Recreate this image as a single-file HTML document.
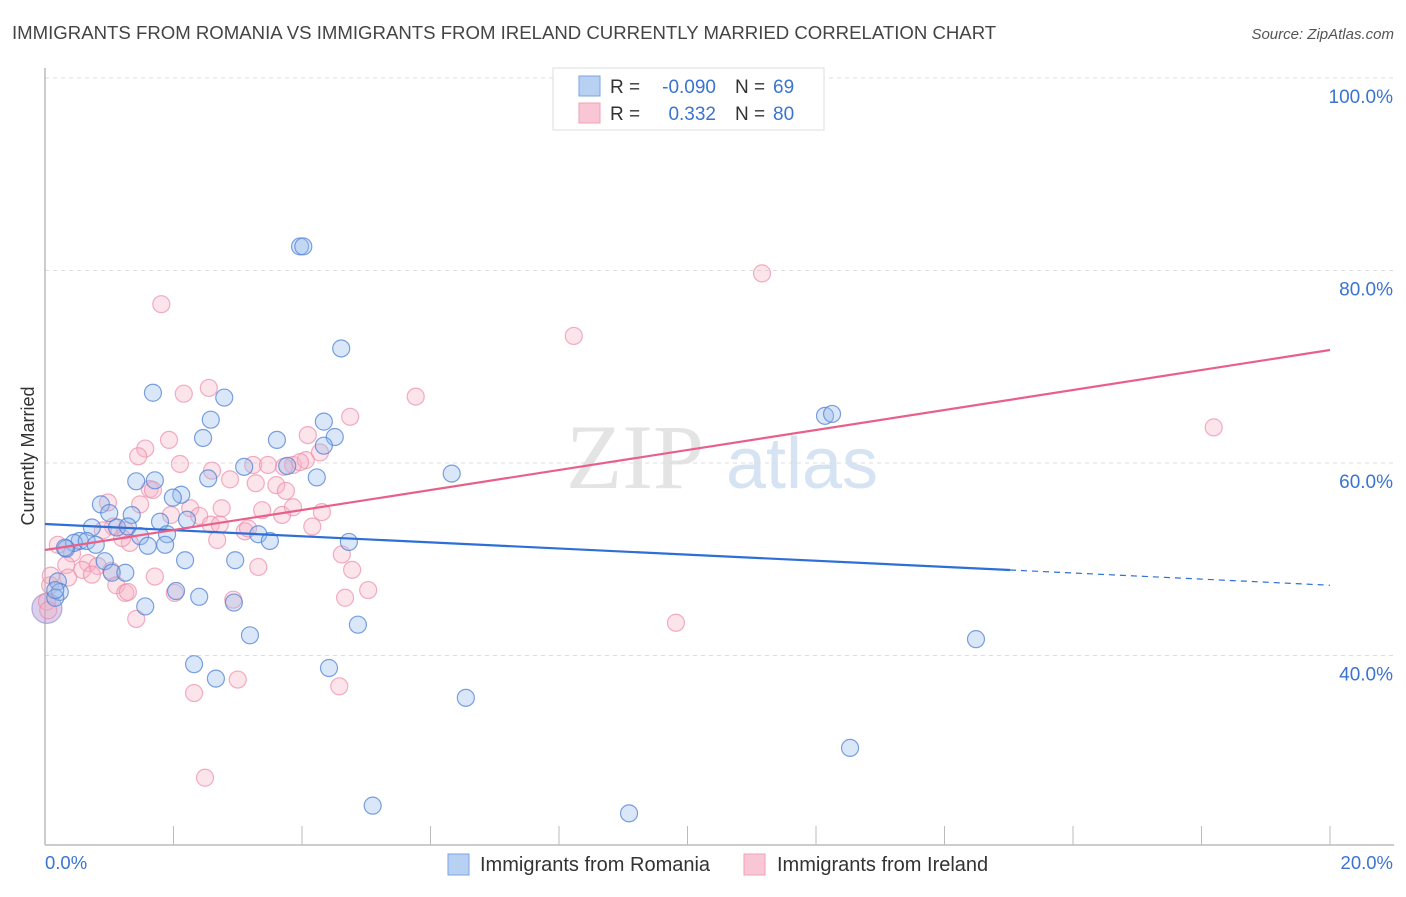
<!DOCTYPE html>
<html><head><meta charset="utf-8"><style>
body{margin:0;background:#fff;width:1406px;height:892px;overflow:hidden;font-family:"Liberation Sans",sans-serif}
</style></head><body>
<svg id="chart" width="1406" height="892" xmlns="http://www.w3.org/2000/svg" font-family="Liberation Sans, sans-serif">
<text x="12" y="39" font-size="18.6" fill="#444">IMMIGRANTS FROM ROMANIA VS IMMIGRANTS FROM IRELAND CURRENTLY MARRIED CORRELATION CHART</text>
<text x="1394" y="39" font-size="15" fill="#555" text-anchor="end" font-style="italic">Source: ZipAtlas.com</text>
<g>
<text x="635" y="488" font-size="92" fill="#e4e4e4" font-family="Liberation Serif, serif" text-anchor="middle">ZIP</text>
<text x="802" y="488" font-size="72" fill="#d6e3f3" text-anchor="middle">atlas</text>
</g>
<g id="grid"></g>
<g id="axes"></g>
<g id="series"></g>
<g id="trends"></g>
<g>
<rect x="553" y="68" width="271" height="62" fill="#fff" stroke="#ddd"/>
<rect x="579" y="76" width="21" height="20" fill="#b8d0f2" stroke="#7aa4e2"/>
<rect x="579" y="103" width="21" height="20" fill="#f8c6d4" stroke="#f0a0b8"/>
<text x="610" y="93" font-size="19" fill="#333">R = </text><text x="716" y="93" font-size="19" fill="#3a74d0" text-anchor="end">-0.090</text>
<text x="735" y="93" font-size="19" fill="#333">N = </text><text x="773" y="93" font-size="19" fill="#3a74d0">69</text>
<text x="610" y="120" font-size="19" fill="#333">R = </text><text x="716" y="120" font-size="19" fill="#3a74d0" text-anchor="end">0.332</text>
<text x="735" y="120" font-size="19" fill="#333">N = </text><text x="773" y="120" font-size="19" fill="#3a74d0">80</text>
</g>
<g>
<rect x="448" y="854" width="21" height="21" fill="#b8d0f2" stroke="#7aa4e2"/>
<text x="480" y="871" font-size="20" fill="#333">Immigrants from Romania</text>
<rect x="744" y="854" width="21" height="21" fill="#f8c6d4" stroke="#f0a0b8"/>
<text x="777" y="871" font-size="20" fill="#333">Immigrants from Ireland</text>
</g>
<text transform="translate(34,456) rotate(-90)" font-size="18" fill="#333" text-anchor="middle">Currently Married</text>
</svg>
<script>
const xTicks=[0,20];
const xTickLabels=["0.0%","20.0%"];
const yTicks=[40,60,80,100];
const yTickLabels=["40.0%","60.0%","80.0%","100.0%"];
const romaniaX=[3.97,4.02,4.61,1.68,2.79,2.58,2.46,3.61,4.51,4.34,4.34,3.10,3.77,4.23,6.33,2.54,1.71,1.42,2.12,1.99,0.87,1.00,1.35,0.73,1.12,1.79,1.29,2.21,1.48,1.90,3.32,3.50,4.73,0.54,0.45,0.65,0.79,0.33,1.60,1.87,0.93,2.18,2.96,1.04,1.25,0.20,0.23,0.16,1.56,2.94,2.04,2.40,3.19,4.87,2.32,4.42,2.66,6.55,12.53,5.10,9.09,14.49,12.14,12.25,0.16,0.31];
const romaniaY=[82.5,82.5,71.9,67.3,66.8,64.5,62.6,62.4,62.7,61.8,64.3,59.6,59.7,58.5,58.9,58.4,58.2,58.1,56.7,56.4,55.7,54.8,54.6,53.3,53.3,53.9,53.4,54.1,52.4,52.6,52.6,51.9,51.8,51.9,51.7,51.9,51.5,51.1,51.4,51.5,49.8,49.9,49.9,48.6,48.6,47.7,46.6,46.0,45.1,45.5,46.7,46.1,42.1,43.2,39.1,38.7,37.6,35.6,30.4,24.4,23.6,41.7,64.9,65.1,46.8,51.2];
const irelandX=[11.16,1.81,8.23,2.55,2.16,5.77,4.75,18.19,1.93,4.09,1.56,1.45,2.10,2.60,3.24,3.47,3.86,3.72,4.06,2.88,3.28,3.60,3.75,1.63,1.68,0.98,1.48,2.26,1.96,2.75,2.40,3.38,3.69,3.86,4.31,1.06,0.90,1.25,2.58,2.72,3.11,3.16,4.16,1.32,1.20,2.68,0.20,0.42,0.67,0.82,1.03,0.33,0.58,4.62,4.78,3.32,1.11,1.25,2.02,1.29,5.03,4.67,1.71,2.93,0.36,0.08,0.03,1.42,9.82,3.00,2.32,4.58,2.49,0.09,0.05,0.73,3.97,4.28];
const irelandY=[79.7,76.5,73.2,67.8,67.2,66.9,64.8,63.7,62.4,62.9,61.5,60.7,59.9,59.2,59.8,59.8,59.8,59.6,60.3,58.3,57.9,57.7,57.1,57.3,57.2,55.9,55.7,55.3,54.6,55.3,54.5,55.1,54.6,55.4,54.9,53.4,53.0,53.0,53.6,53.6,52.9,53.2,53.4,51.7,52.2,52.0,51.5,50.6,49.6,49.3,48.8,49.4,48.9,50.5,48.9,49.2,47.3,46.5,46.5,46.6,46.8,46.0,48.2,45.8,48.1,47.3,45.6,43.8,43.4,37.5,36.1,36.8,27.3,48.3,44.7,48.4,60.1,61.1];
const bigX=[0.03];
const bigY=[44.9];
const romaniaTrend=[53.66,47.3];
const romaniaSolidEnd=15.02;
const irelandTrend=[50.96,71.74];

const NS="http://www.w3.org/2000/svg";
const X0=45,X1=1330,Y60=463,PPU=9.625;
const sx=v=>X0+(v-xTicks[0])/(xTicks[1]-xTicks[0])*(X1-X0);
const sy=v=>Y60-(v-60)*PPU;
function mk(tag,attrs,parent){const e=document.createElementNS(NS,tag);for(const k in attrs)e.setAttribute(k,attrs[k]);parent.appendChild(e);return e;}
const grid=document.getElementById('grid'),axes=document.getElementById('axes'),series=document.getElementById('series'),trends=document.getElementById('trends');
yTicks.forEach((t,i)=>{
  const l=mk('line',{x1:X0,x2:1394,y1:sy(t),y2:sy(t),stroke:'#ddd','stroke-dasharray':'4,4'},grid);
  
  
  const tx=mk('text',{x:1393,y:sy(t)+25,'font-size':19,fill:'#3a74d0','text-anchor':'end'},axes);
  tx.textContent=yTickLabels[i];
  
  
});
const ax=mk('line',{x1:X0,x2:1394,y1:845,y2:845,stroke:'#bbb','stroke-width':1.5},axes);


const ay=mk('line',{x1:X0,x2:X0,y1:68,y2:845,stroke:'#bbb','stroke-width':1.5},axes);


for(let i=1;i<=10;i++){
  const v=xTicks[0]+(xTicks[1]-xTicks[0])*i/10;
  const t=mk('line',{x1:sx(v),x2:sx(v),y1:826,y2:845,stroke:'#bbb'},axes);
  
  
}
xTicks.forEach((t,i)=>{
  const tx=mk('text',{x:sx(t)+(i==0?0:63),y:869,'font-size':18.5,fill:'#3a74d0','text-anchor':i==0?'start':'end'},axes);
  tx.textContent=xTickLabels[i];
  
  
});
function dots(xs,ys,fill,stroke,name,r){
  xs.forEach((x,i)=>{
    const c=mk('circle',{cx:sx(x),cy:sy(ys[i]),r:r,fill:fill,stroke:stroke,'stroke-width':1.2},series);
    
    
  });
}
dots(bigX,bigY,'rgba(170,150,210,0.45)','rgba(160,140,210,0.7)','point-large',15);
dots(irelandX,irelandY,'rgba(246,178,198,0.35)','rgba(238,140,170,0.7)','point-ireland',8.5);
dots(romaniaX,romaniaY,'rgba(150,185,235,0.35)','rgba(80,130,215,0.75)','point-romania',8.5);
const rs=(romaniaTrend[1]-romaniaTrend[0])/20;
const l1=mk('line',{x1:sx(0),y1:sy(romaniaTrend[0]),x2:sx(romaniaSolidEnd),y2:sy(romaniaTrend[0]+rs*romaniaSolidEnd),stroke:'#2d6fd6','stroke-width':2.2},trends);


const l2=mk('line',{x1:sx(romaniaSolidEnd),y1:sy(romaniaTrend[0]+rs*romaniaSolidEnd),x2:sx(20),y2:sy(romaniaTrend[1]),stroke:'#2d6fd6','stroke-width':1.2,'stroke-dasharray':'6,5'},trends);


const l3=mk('line',{x1:sx(0),y1:sy(irelandTrend[0]),x2:sx(20),y2:sy(irelandTrend[1]),stroke:'#e8608a','stroke-width':2.2},trends);


</script>
</body></html>
